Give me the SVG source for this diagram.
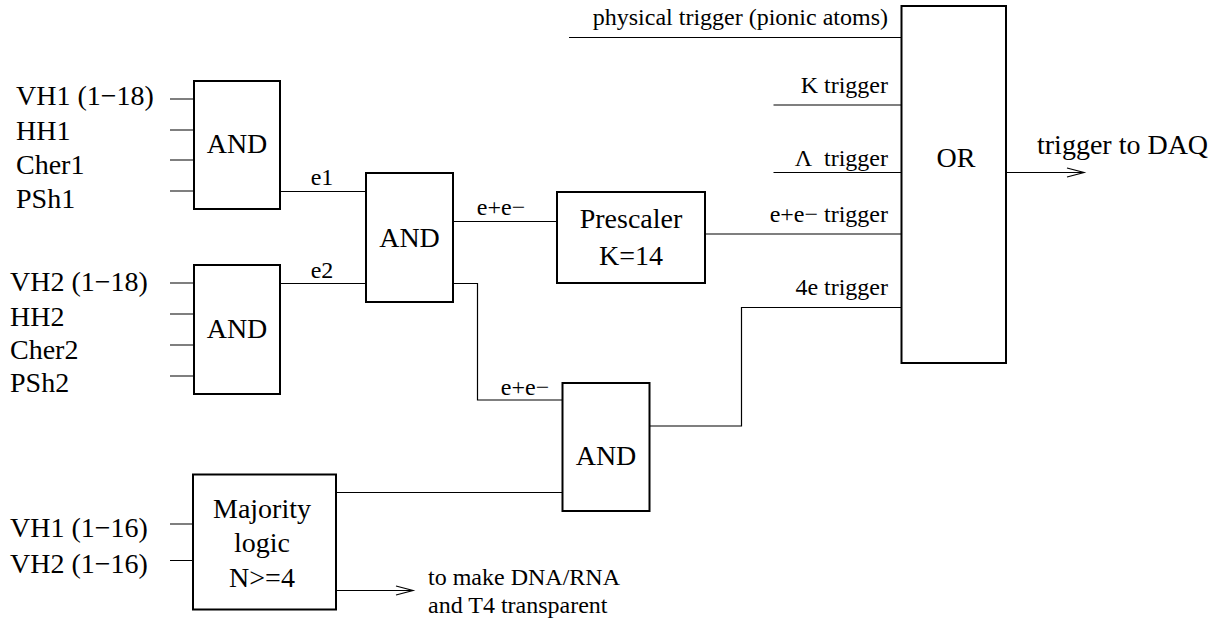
<svg xmlns="http://www.w3.org/2000/svg" width="1223" height="623" viewBox="0 0 1223 623">
<defs>
<style>
.L{font-size:28px}
.S{font-size:24px}
.m{text-anchor:middle}
.e{text-anchor:end}
.box{fill:#fff;stroke:#000;stroke-width:2}
.ln{fill:none;stroke:#000;stroke-width:1.2}
</style>
<marker id="open" markerUnits="userSpaceOnUse" markerWidth="24" markerHeight="14" viewBox="-20 -7 22 14" refX="0" refY="0" orient="auto">
<path d="M-17,-4.5 L0,0 L-17,4.5" fill="none" stroke="#000" stroke-width="1.2"/>
</marker>
</defs>
<rect width="1223" height="623" fill="#fff"/>
<g font-family="Liberation Serif, Times New Roman, serif" fill="#000">
<g id="connectors">
<path class="ln" d="M170,99 H194 M170,130 H194 M170,160 H194 M170,191 H194"/>
<path class="ln" d="M170,283 H194 M170,314 H194 M170,345 H194 M170,376 H194"/>
<path class="ln" d="M280,191.5 H366"/>
<path class="ln" d="M280,283.5 H366"/>
<path class="ln" d="M453,221.5 H557"/>
<path class="ln" d="M453,283.5 H477.5 V400 H562"/>
<path class="ln" d="M705,234 H901"/>
<path class="ln" d="M650,426 H741.5 V307.5 H901"/>
<path class="ln" d="M336,492.5 H562"/>
<path class="ln" d="M170,524 H193 M170,560.5 H193"/>
<path class="ln" d="M336,590.5 H413" marker-end="url(#open)"/>
<path class="ln" d="M569,37.5 H901"/>
<path class="ln" d="M773.5,105 H901"/>
<path class="ln" d="M773.5,172.5 H901"/>
<path class="ln" d="M1006,172.5 H1084" marker-end="url(#open)"/>
<text class="S m" x="322" y="185">e1</text>
<text class="S m" x="322" y="278">e2</text>
<text class="S m" x="501" y="215">e+e−</text>
<text class="S m" x="525" y="395">e+e−</text>
<text class="S e" x="888" y="25">physical trigger (pionic atoms)</text>
<text class="S e" x="888" y="93">K trigger</text>
<text class="S e" x="888" y="166">Λ&#160;&#160;trigger</text>
<text class="S e" x="888" y="222">e+e− trigger</text>
<text class="S e" x="888" y="295">4e trigger</text>
<text class="L" x="1037" y="154">trigger to DAQ</text>
<text class="S" x="428" y="585">to make DNA/RNA</text>
<text class="S" x="428" y="613">and T4 transparent</text>
</g>

<g id="inputs1">
<text class="L" x="16" y="105">VH1 (1−18)</text>
<text class="L" x="16" y="140">HH1</text>
<text class="L" x="16" y="174">Cher1</text>
<text class="L" x="16" y="208">PSh1</text>
</g>
<g id="inputs2">
<text class="L" x="10" y="291">VH2 (1−18)</text>
<text class="L" x="10" y="326">HH2</text>
<text class="L" x="10" y="359">Cher2</text>
<text class="L" x="10" y="392">PSh2</text>
</g>
<g id="inputs3">
<text class="L" x="10" y="537">VH1 (1−16)</text>
<text class="L" x="10" y="573">VH2 (1−16)</text>
</g>

<g id="and1">
<rect class="box" x="194" y="81" width="86" height="128"/>
<text class="L m" x="237" y="153">AND</text>
</g>
<g id="and2">
<rect class="box" x="194" y="265" width="86" height="129"/>
<text class="L m" x="237" y="338">AND</text>
</g>
<g id="and3">
<rect class="box" x="366" y="173" width="87" height="129"/>
<text class="L m" x="409.5" y="247">AND</text>
</g>
<g id="prescaler">
<rect class="box" x="557" y="192" width="148" height="91"/>
<text class="L m" x="631" y="228">Prescaler</text>
<text class="L m" x="631" y="265">K=14</text>
</g>
<g id="and4">
<rect class="box" x="562.5" y="383" width="87" height="128"/>
<text class="L m" x="606" y="465">AND</text>
</g>
<g id="majority">
<rect class="box" x="193" y="474.5" width="143" height="135"/>
<text class="L m" x="262" y="518">Majority</text>
<text class="L m" x="262" y="552">logic</text>
<text class="L m" x="262" y="587">N&gt;=4</text>
</g>
<g id="or">
<rect class="box" x="901.5" y="6" width="104.5" height="357"/>
<text class="L m" x="956" y="167">OR</text>
</g>
</g>
</svg>
